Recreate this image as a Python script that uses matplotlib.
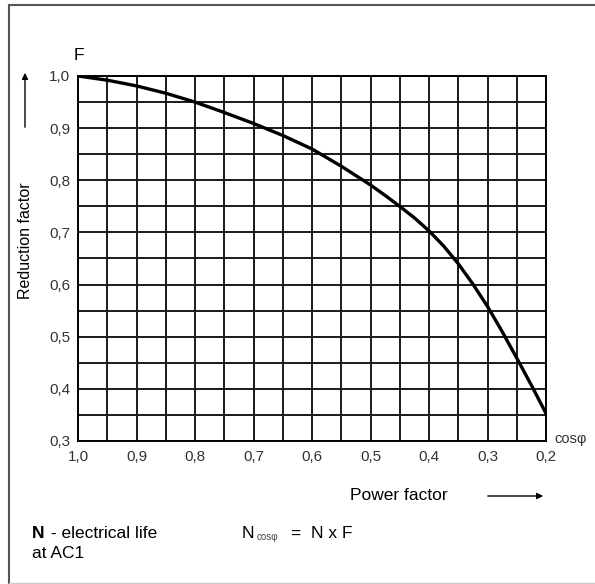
import numpy as np
import matplotlib
matplotlib.use("Agg")
import matplotlib.pyplot as plt
from matplotlib.lines import Line2D
from matplotlib.patches import FancyArrowPatch

plt.rcParams['font.family'] = ['Liberation Sans', 'DejaVu Sans']

# Reduction factor F vs power factor cos phi
cos_phi = [1.0, 0.95, 0.9, 0.85, 0.8, 0.75, 0.7, 0.65, 0.6, 0.55, 0.5,
           0.475, 0.45, 0.425, 0.4, 0.375, 0.35, 0.325, 0.3, 0.275, 0.25,
           0.225, 0.2]
factor_F = [1.0, 0.992, 0.981, 0.967, 0.950, 0.930, 0.909, 0.886, 0.860,
            0.827, 0.791, 0.771, 0.750, 0.728, 0.703, 0.674, 0.640, 0.601,
            0.558, 0.510, 0.459, 0.407, 0.353]

x_ticks = [1.0, 0.9, 0.8, 0.7, 0.6, 0.5, 0.4, 0.3, 0.2]
x_labels = ["1,0", "0,9", "0,8", "0,7", "0,6", "0,5", "0,4", "0,3", "0,2"]
y_ticks = [1.0, 0.9, 0.8, 0.7, 0.6, 0.5, 0.4, 0.3]
y_labels = ["1,0", "0,9", "0,8", "0,7", "0,6", "0,5", "0,4", "0,3"]

W, H = 595, 584
fig = plt.figure(figsize=(W / 100, H / 100), dpi=100)
ax = fig.add_axes([78 / W, 1 - 441 / H, 468 / W, 365 / H])


def fx(px):
    return px / W


def fy(py):
    return 1 - py / H


# grid every 0.05 in both directions
for gx in np.arange(0.2, 1.001, 0.05):
    ax.axvline(gx, color="#1a1a1a", lw=1.4, zorder=1)
for gy in np.arange(0.3, 1.001, 0.05):
    ax.axhline(gy, color="#1a1a1a", lw=1.4, zorder=1)

ax.plot(cos_phi, factor_F, color="black", lw=2.4, zorder=3,
        solid_capstyle="round", solid_joinstyle="round")

ax.set_xlim(1.0, 0.2)
ax.set_ylim(0.3, 1.0)
ax.set_xticks(x_ticks)
ax.set_xticklabels(x_labels, fontsize=11, color="#333333")
ax.set_yticks(y_ticks)
ax.set_yticklabels(y_labels, fontsize=11, color="#333333")
ax.tick_params(axis="x", length=0, pad=6.5)
ax.tick_params(axis="y", length=0, pad=5.5)
for s in ax.spines.values():
    s.set_linewidth(1.4)

# axis annotations
fig.text(fx(74), fy(56), "F", fontsize=12.5, ha="left", va="center")
fig.text(fx(25), fy(241), "Reduction factor", fontsize=11.5,
         rotation=90, ha="center", va="center")
fig.text(fx(554), fy(439), "cosφ", fontsize=10.5, ha="left",
         va="center", color="#333333")
fig.text(fx(350), fy(496), "Power factor", fontsize=12.5,
         ha="left", va="center")
fig.text(fx(32), fy(534), "N", fontsize=12.5, weight="bold",
         ha="left", va="center")
fig.text(fx(46), fy(534), " - electrical life", fontsize=12.5,
         ha="left", va="center")
fig.text(fx(32), fy(554), "at AC1", fontsize=12.5, ha="left", va="center")
fig.text(fx(242), fy(534), "N", fontsize=12.5, ha="left", va="center")
fig.text(fx(257), fy(537), "cosφ", fontsize=7, ha="left",
         va="center", color="#444444")
fig.text(fx(291), fy(534), "=  N x F", fontsize=12.5, ha="left",
         va="center")

# arrows
fig.add_artist(FancyArrowPatch(
    (fx(25), fy(130)), (fx(25), fy(70)),
    transform=fig.transFigure, arrowstyle="-|>", mutation_scale=9,
    lw=1.0, color="black"))
fig.add_artist(FancyArrowPatch(
    (fx(485), fy(496)), (fx(546), fy(496)),
    transform=fig.transFigure, arrowstyle="-|>", mutation_scale=9,
    lw=1.0, color="black"))

# outer frame
fig.add_artist(Line2D([fx(9), fx(9)], [fy(5), fy(583)],
                      transform=fig.transFigure, color="#555555", lw=1.5))
fig.add_artist(Line2D([fx(9), 1.0], [fy(5), fy(5)],
                      transform=fig.transFigure, color="#555555", lw=1.5))
fig.add_artist(Line2D([fx(9), 1.0], [fy(583), fy(583)],
                      transform=fig.transFigure, color="#cccccc", lw=1.0))

fig.savefig("out.png", dpi=100)
